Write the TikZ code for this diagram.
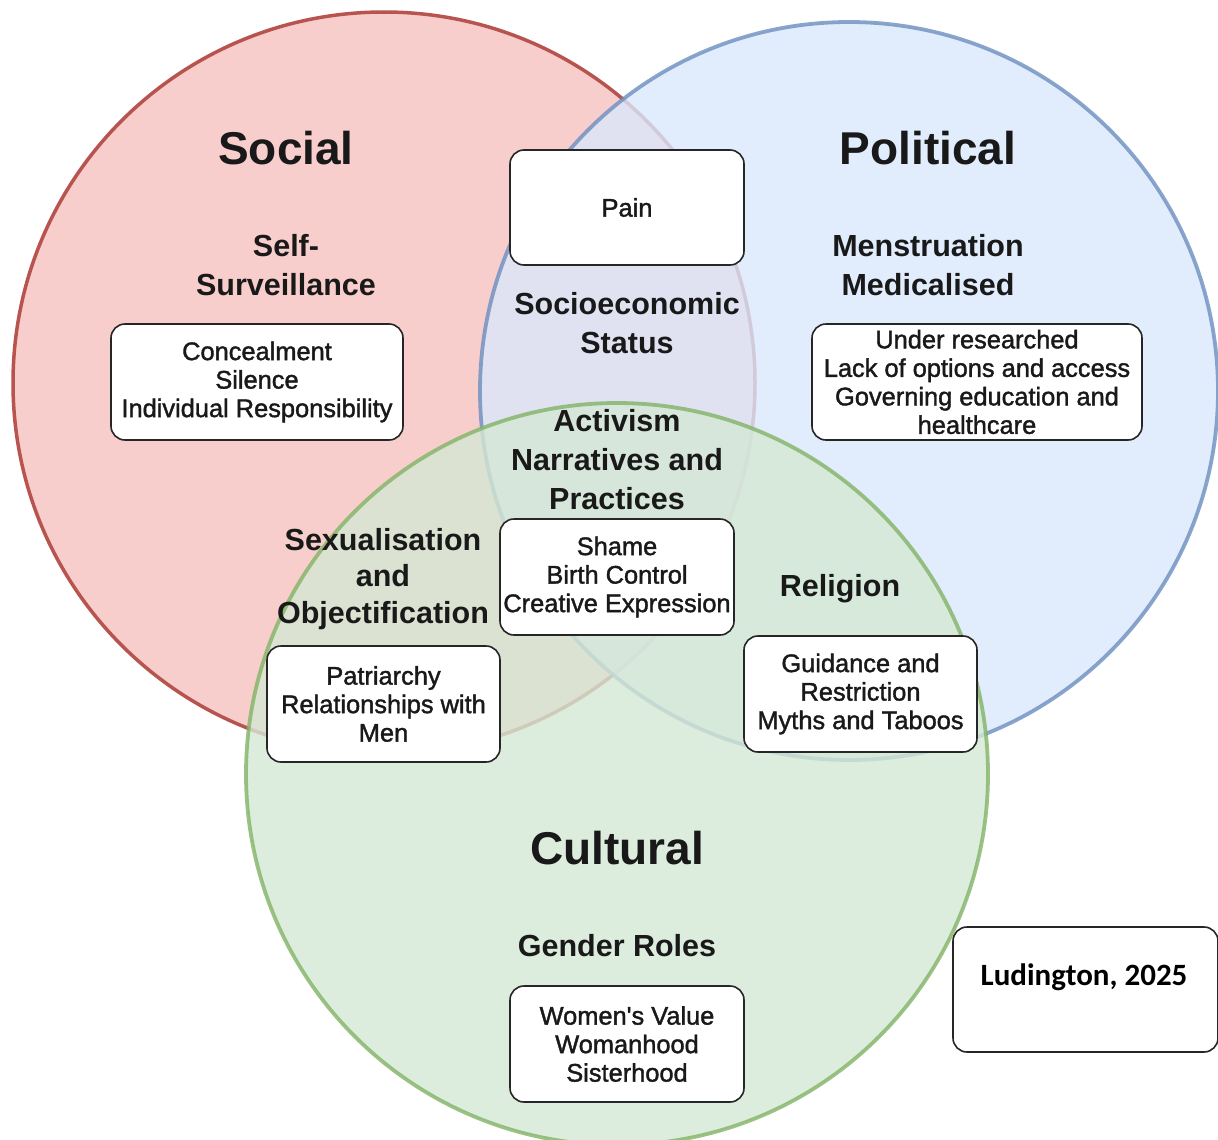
\documentclass[tikz,border=0pt]{standalone}
\usepackage{fontspec}
\setmainfont{Liberation Sans}
\newfontface\boxfont{Liberation Sans}[FakeBold=1.5]
\newfontfamily\calibrifont{Carlito}
\usepackage{tikz}
\usetikzlibrary{positioning}

\definecolor{socialfill}{HTML}{F8CECC}
\definecolor{socialline}{HTML}{B85450}
\definecolor{politicalfill}{HTML}{DAE8FC}
\definecolor{politicalline}{HTML}{6C8EBF}
\definecolor{culturalfill}{HTML}{D5E8D4}
\definecolor{culturalline}{HTML}{82B366}

\begin{document}
\begin{tikzpicture}[x=1pt, y=-1pt,
    title/.style={text=black!90, font=\bfseries\fontsize{46}{50}\selectfont},
    theme/.style={text=black!90, align=center, font=\bfseries\fontsize{30.5}{39}\selectfont},
    itembox/.style={draw=black!85, line width=1.6pt, fill=white, rounded corners=14pt,
        minimum height=116pt, inner sep=2pt, align=center, text=black!90,
        font=\boxfont\fontsize{25.4}{28.5}\selectfont}]
    \useasboundingbox (0,0) rectangle (1218,1140);

    % --- Circles ---
    \draw[socialline, line width=3.5pt, fill=socialfill] (384,383) circle[radius=371pt];
    \draw[politicalline, line width=3.8pt, fill=politicalfill, opacity=0.8] (849,391) circle[radius=369pt];
    \draw[culturalline, line width=3.8pt, fill=culturalfill, opacity=0.8] (617,774) circle[radius=371pt];

    % --- Headings ---
    \node[title] (social) at (286,148) {Social};
    \node[title] (political) at (928,148) {Political};
    \node[title] (cultural) at (617,848) {Cultural};

    % --- Themes ---
    \node[theme] (surveillance) at (286,265) {Self-\\Surveillance};
    \node[theme] (medicalised) at (928,265) {Menstruation\\Medicalised};
    \node[theme] (socioeconomic) at (627,323) {Socioeconomic\\Status};
    \node[theme] (activism) at (617,460) {Activism\\Narratives and\\Practices};
    \node[theme, font=\bfseries\fontsize{30.5}{36.5}\selectfont] (sexualisation) at (383,579) {Sexualisation\\and\\Objectification};
    \node[theme] (religion) at (840,589) {Religion};
    \node[theme] (gender) at (617,946) {Gender Roles};

    % --- Sub-theme boxes ---
    \node[itembox, minimum width=234pt, minimum height=115pt] (pain) at (627,207.5) {Pain};
    \node[itembox, minimum width=292pt] (concealment) at (257,382)
        {Concealment\\Silence\\Individual Responsibility};
    \node[itembox, minimum width=330pt] (research) at (977,382)
        {Under researched\\Lack of options and access\\Governing education and\\healthcare};
    \node[itembox, minimum width=234pt] (shame) at (617,577)
        {Shame\\Birth Control\\Creative Expression};
    \node[itembox, minimum width=233pt] (patriarchy) at (383.5,704)
        {Patriarchy\\Relationships with\\Men};
    \node[itembox, minimum width=233pt] (guidance) at (860.5,694)
        {Guidance and\\Restriction\\Myths and Taboos};
    \node[itembox, minimum width=234pt] (value) at (627,1044)
        {Women's Value\\Womanhood\\Sisterhood};

    % --- Citation ---
    \node[itembox, minimum width=265pt, minimum height=125pt] (citation) at (1085.5,989.5) {};
    \node[text=black, font=\calibrifont\bfseries\fontsize{31}{34}\selectfont] (citetext) at (1084,977) {Ludington, 2025};
\end{tikzpicture}
\end{document}
